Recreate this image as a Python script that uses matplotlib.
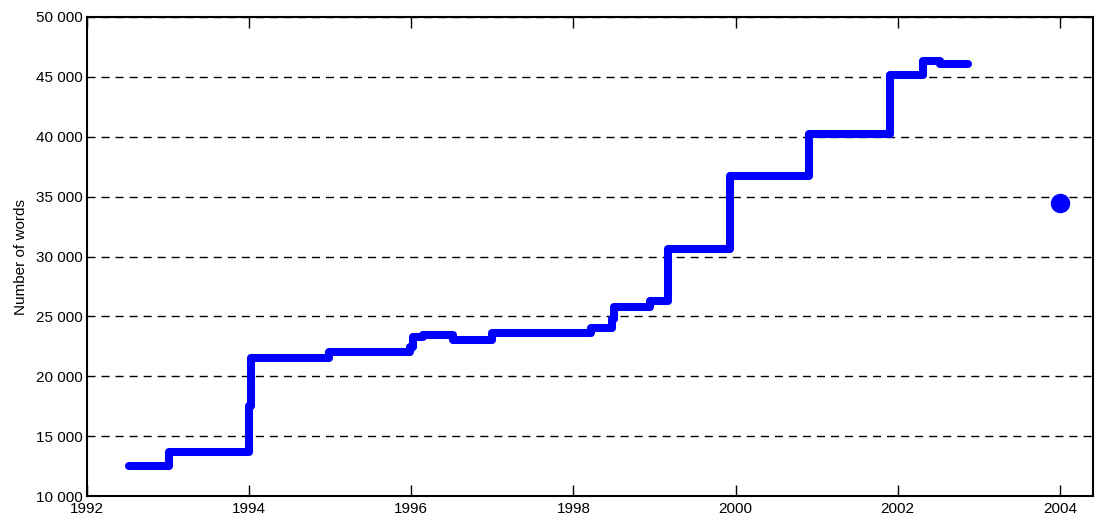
import matplotlib.pyplot as plt
from matplotlib.ticker import FuncFormatter

# dates of each change (decimal years) and word count after the change
dates = [1992.52, 1993.01, 1994.00, 1994.02, 1994.98, 1995.98, 1996.02, 1996.15,
         1996.51, 1997.00, 1998.22, 1998.47, 1998.50, 1998.95, 1999.17,
         1999.93, 2000.91, 2001.90, 2002.31, 2002.52, 2002.87]
words = [12500, 13700, 17500, 21500, 22000, 22450, 23300, 23450,
         23050, 23650, 24000, 24800, 25750, 26300, 30650,
         36700, 40200, 45150, 46350, 46050, 46050]

point_date = [2004.0]
point_words = [34450]

x_ticks = [1992, 1994, 1996, 1998, 2000, 2002, 2004]
y_ticks = [10000, 15000, 20000, 25000, 30000, 35000, 40000, 45000, 50000]

plt.rcParams["font.family"] = ["Liberation Sans", "DejaVu Sans"]

fig = plt.figure(figsize=(10.96, 5.23), dpi=100)
ax = fig.add_axes([0.0794, 0.0516, 0.9179, 0.9159])

ax.step(dates, words, where="post", color="#0000ff", linewidth=5.8,
        solid_capstyle="round", solid_joinstyle="round", zorder=3)
ax.plot(point_date, point_words, "o", color="#0000ff", markersize=13, zorder=3)

ax.set_xlim(1992, 2004.41)
ax.set_ylim(10000, 50000)
ax.set_xticks(x_ticks)
ax.set_yticks(y_ticks)
ax.yaxis.set_major_formatter(FuncFormatter(lambda v, p: f"{int(v):,}".replace(",", " ")))

ax.yaxis.grid(True, color="black", linewidth=1.0, linestyle=(0, (5.8, 4.3)), zorder=1)
ax.set_axisbelow(True)

ax.tick_params(axis="x", direction="in", length=8, width=1, top=True,
               labelsize=11, pad=4)
ax.tick_params(axis="y", length=0, labelsize=11, pad=3)
for s in ax.spines.values():
    s.set_linewidth(1.5)

ax.set_ylabel("Number of words", fontsize=11, labelpad=6)

fig.savefig("out.png", dpi=100)
